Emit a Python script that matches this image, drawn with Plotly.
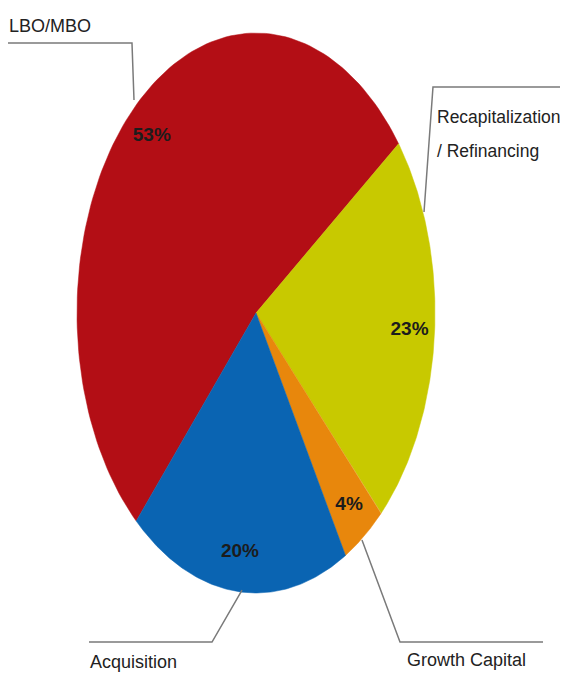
import numpy as np
import plotly.graph_objects as go

# ---- data ----
categories = ["LBO/MBO", "Recapitalization / Refinancing", "Growth Capital", "Acquisition"]
values = [53, 23, 4, 20]
pct_labels = ["53%", "23%", "4%", "20%"]
colors = ["#B30E15", "#C8C900", "#E8870C", "#0A64B2"]

OFF = 8                    # browser body margin offset
W, H = 568 - OFF, 677 - OFF
CX, CY = 256 - OFF, 313 - OFF   # pie centre in figure pixels
RX, RY = 179, 280          # elliptical radii in pixels (stretched pie)
START_DEG = 228.0          # start angle (math convention), clockwise

FONT = "Liberation Sans, Arial, sans-serif"

fig = go.Figure()

total = sum(values)
a = START_DEG
mid_angles = []
for val, col, name in zip(values, colors, categories):
    span = 360.0 * val / total
    th = np.radians(np.linspace(a, a - span, 120))
    xs = np.concatenate([[0], np.cos(th), [0]])
    ys = np.concatenate([[0], np.sin(th), [0]])
    fig.add_trace(go.Scatter(x=xs, y=ys, fill="toself", fillcolor=col, mode="lines",
                             line=dict(color=col, width=0.5), name=name,
                             hoverinfo="name", showlegend=False))
    mid_angles.append(a - span / 2)
    a -= span

mid = np.radians(np.array(mid_angles))
fig.add_trace(go.Scatter(x=0.86 * np.cos(mid), y=0.86 * np.sin(mid), mode="text",
                         text=pct_labels, showlegend=False, hoverinfo="skip",
                         textfont=dict(family=FONT, size=19, color="#1c1c1c", weight="bold")))


def px(x):
    return (x - OFF) / W


def py(y):
    return 1 - (y - OFF) / H


leaders = [
    [(7, 43), (132, 43), (134, 100)],
    [(568, 87), (433, 87), (424, 212)],
    [(242, 590), (212, 642), (89, 642)],
    [(362, 540), (400, 642), (543, 642)],
]
for pts in leaders:
    path = "M " + " L ".join(f"{px(x):.4f},{py(y):.4f}" for x, y in pts)
    fig.add_shape(type="path", path=path, xref="paper", yref="paper",
                  line=dict(color="#7a7a7a", width=1.5))

label_pos = [
    ("LBO/MBO", 7, 26, 18),
    ("Recapitalization", 435, 117, 17.5),
    ("/ Refinancing", 435, 151, 17.5),
    ("Acquisition", 88, 662, 18),
    ("Growth Capital", 405, 660, 18),
]
for txt, x, y, s in label_pos:
    fig.add_annotation(text=txt, x=px(x), y=py(y), xref="paper", yref="paper",
                       xanchor="left", yanchor="middle", showarrow=False,
                       font=dict(family=FONT, size=s, color="#222222"))

fig.update_layout(
    width=W, height=H,
    margin=dict(l=0, r=0, t=0, b=0),
    paper_bgcolor="white", plot_bgcolor="white",
    xaxis=dict(range=[-CX / RX, (W - CX) / RX], visible=False, fixedrange=True),
    yaxis=dict(range=[-(H - CY) / RY, CY / RY], visible=False, fixedrange=True),
)

fig.write_html("out.html")
